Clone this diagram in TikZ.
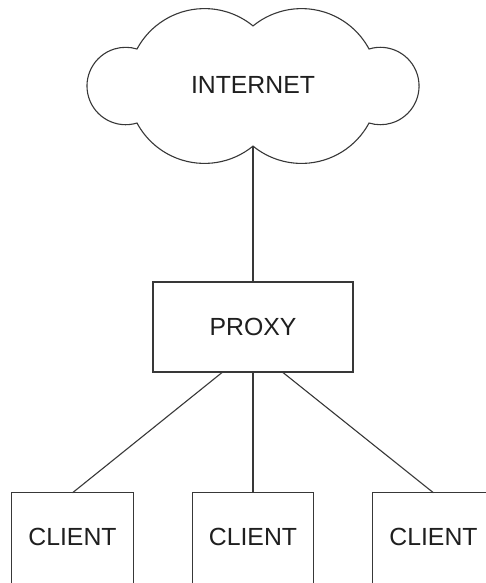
\documentclass[tikz,border=0pt]{standalone}
\usepackage{fontspec}
\setmainfont{Liberation Sans}
\begin{document}
\begin{tikzpicture}[x=1pt,y=-1pt,
  line/.style={draw=black!78,line width=1.1pt},
  box/.style={line,rectangle,inner sep=0pt,minimum width=200pt,minimum height=90pt},
  clientbox/.style={rectangle,inner sep=0pt,minimum width=121pt,minimum height=88pt},
  lbl/.style={text=black!88,font=\fontsize{24.8pt}{28pt}\selectfont}]
\clip (0,0) rectangle (486,583);
\fill[white] (0,0) rectangle (486,583);

% cloud outline: six circular lobes
\draw[line,line join=miter]
  (137,49)
  arc[start angle=208.2,end angle=309.3,radius=76.6]
  arc[start angle=230.7,end angle=331.8,radius=76.6]
  arc[start angle=253,end angle=467,radius=38.7]
  arc[start angle=28.2,end angle=129.3,radius=76.6]
  arc[start angle=50.7,end angle=151.8,radius=76.6]
  arc[start angle=73,end angle=287,radius=38.7] -- cycle;
\coordinate (notch) at (253,146);
\node[lbl] (internet) at (253,85) {INTERNET};

% proxy
\node[box,lbl] (proxy) at (253,327) {PROXY};

% clients (boxes run past the lower edge)
\node[clientbox,lbl] (c1) at (72.5,537) {CLIENT};
\node[clientbox,lbl] (c2) at (253,537) {CLIENT};
\node[clientbox,lbl] (c3) at (433.5,537) {CLIENT};
\foreach \c in {c1,c2,c3}
  \draw[line] ([yshift=-12pt]\c.south west) |- (\c.north east) -- ([yshift=-12pt]\c.south east);

% links
\draw[line] (notch) -- (proxy.north);
\draw[line] ([xshift=-31pt]proxy.south) -- (c1.north);
\draw[line] (proxy.south) -- (c2.north);
\draw[line] ([xshift=30pt]proxy.south) -- (c3.north);
\end{tikzpicture}
\end{document}
